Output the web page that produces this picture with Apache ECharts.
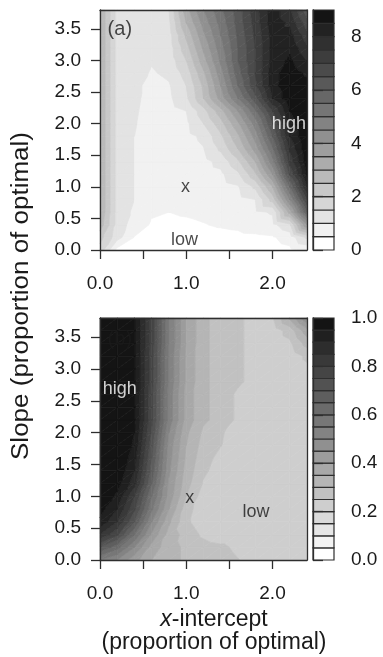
<!DOCTYPE html>
<html>
<head>
<meta charset="utf-8">
<script src="https://cdn.jsdelivr.net/npm/echarts@6/dist/echarts.min.js"></script>
<style>
html, body { margin: 0; padding: 0; background: #fff; }
#chart { width: 383px; height: 657px; }
</style>
</head>
<body>
<div id="chart"></div>
<script>
// grid nodes (x-intercept and slope, proportion of optimal)
var xNodes = [0, 0.2, 0.4, 0.6, 0.8, 1.0, 1.2, 1.4, 1.6, 1.8, 2.0, 2.2, 2.4];
var yNodes = [0, 0.2, 0.4, 0.6, 0.8, 1.0, 1.2, 1.4, 1.6, 1.8, 2.0, 2.2, 2.4, 2.6, 2.8, 3.0, 3.2, 3.4, 3.6, 3.8];

// panel (a), one row per slope value, bottom row first
var gridA = [
    [1.8, 0.35, 0.3, 0.25, 0.2, 0.2, 0.2, 0.2, 0.2, 0.25, 0.3, 0.4, 0.6],
    [2.2, 1.2, 0.48, 0.35, 0.3, 0.3, 0.32, 0.35, 0.38, 0.4, 0.45, 0.7, 1.6],
    [2.8, 1.3, 0.75, 0.45, 0.4, 0.42, 0.48, 0.55, 0.6, 0.75, 0.85, 1.4, 4.0],
    [3.0, 1.3, 0.9, 0.55, 0.5, 0.55, 0.6, 0.65, 0.72, 0.9, 1.05, 3.2, 6.0],
    [3.0, 1.3, 1.0, 0.7, 0.65, 0.65, 0.7, 0.75, 0.85, 1.0, 2.2, 4.5, 7.0],
    [3.0, 1.3, 1.0, 0.7, 0.7, 0.7, 0.75, 0.8, 0.95, 1.6, 3.0, 5.5, 8.0],
    [3.0, 1.3, 1.0, 0.7, 0.7, 0.7, 0.8, 0.9, 1.4, 2.4, 4.0, 6.6, 8.6],
    [3.0, 1.3, 1.0, 0.7, 0.7, 0.75, 0.85, 1.15, 1.9, 3.0, 4.8, 7.2, 8.8],
    [3.0, 1.3, 1.0, 0.7, 0.7, 0.8, 0.98, 1.6, 2.5, 3.7, 5.4, 7.6, 8.9],
    [3.0, 1.3, 1.0, 0.7, 0.7, 0.85, 1.1, 1.9, 2.9, 4.2, 6.0, 8.0, 9.0],
    [3.0, 1.3, 1.05, 0.7, 0.75, 0.9, 1.5, 2.3, 3.4, 4.7, 6.5, 8.3, 9.0],
    [3.0, 1.3, 1.1, 0.7, 0.8, 1.0, 1.8, 2.8, 4.0, 5.4, 7.0, 8.5, 9.0],
    [3.0, 1.3, 1.15, 0.75, 0.9, 1.4, 2.5, 3.7, 5.0, 6.3, 8.0, 8.9, 8.9],
    [3.0, 1.3, 1.15, 0.8, 0.95, 1.5, 2.6, 4.0, 5.5, 6.9, 8.3, 8.9, 8.7],
    [3.0, 1.3, 1.2, 0.95, 1.1, 1.7, 2.9, 4.3, 5.8, 7.0, 8.3, 8.8, 8.4],
    [3.0, 1.3, 1.15, 1.05, 1.2, 2.0, 3.3, 4.6, 6.0, 7.0, 8.2, 8.6, 8.0],
    [3.0, 1.3, 1.2, 1.05, 1.25, 2.3, 3.6, 4.8, 6.0, 7.0, 8.2, 8.4, 7.6],
    [3.0, 1.3, 1.2, 1.1, 1.3, 2.6, 3.9, 5.0, 6.1, 7.1, 8.2, 8.2, 7.2],
    [3.0, 1.3, 1.2, 1.1, 1.4, 3.0, 4.2, 5.2, 6.2, 7.2, 8.3, 7.9, 6.7],
    [3.0, 1.3, 1.2, 1.1, 1.5, 3.3, 4.5, 5.4, 6.25, 7.3, 8.3, 7.6, 6.2]
];

// panel (b)
var gridB = [
    [0.55, 0.5, 0.42, 0.35, 0.32, 0.29, 0.28, 0.27, 0.252, 0.23, 0.22, 0.22, 0.22],
    [0.7, 0.62, 0.5, 0.38, 0.32, 0.29, 0.27, 0.26, 0.24, 0.22, 0.22, 0.22, 0.22],
    [0.85, 0.76, 0.6, 0.44, 0.33, 0.28, 0.24, 0.22, 0.22, 0.22, 0.22, 0.22, 0.22],
    [0.94, 0.85, 0.7, 0.5, 0.36, 0.26, 0.22, 0.22, 0.22, 0.22, 0.22, 0.22, 0.22],
    [0.97, 0.9, 0.76, 0.56, 0.4, 0.27, 0.22, 0.22, 0.22, 0.22, 0.22, 0.22, 0.22],
    [0.99, 0.94, 0.8, 0.6, 0.43, 0.3, 0.225, 0.22, 0.22, 0.22, 0.22, 0.22, 0.22],
    [1.0, 0.97, 0.87, 0.65, 0.44, 0.32, 0.245, 0.22, 0.22, 0.22, 0.22, 0.22, 0.22],
    [1.0, 0.99, 0.9, 0.68, 0.46, 0.33, 0.26, 0.225, 0.22, 0.22, 0.22, 0.22, 0.22],
    [1.0, 1.0, 0.92, 0.7, 0.47, 0.34, 0.27, 0.235, 0.22, 0.22, 0.22, 0.22, 0.22],
    [1.0, 1.0, 0.94, 0.72, 0.48, 0.35, 0.28, 0.252, 0.22, 0.22, 0.22, 0.22, 0.22],
    [1.0, 1.0, 0.95, 0.74, 0.5, 0.36, 0.29, 0.255, 0.23, 0.22, 0.22, 0.22, 0.22],
    [1.0, 1.0, 0.96, 0.76, 0.53, 0.38, 0.31, 0.28, 0.24, 0.22, 0.22, 0.22, 0.22],
    [1.0, 1.0, 0.96, 0.76, 0.53, 0.38, 0.31, 0.28, 0.24, 0.22, 0.22, 0.22, 0.22],
    [1.0, 1.0, 0.96, 0.76, 0.53, 0.38, 0.31, 0.28, 0.24, 0.22, 0.22, 0.22, 0.22],
    [1.0, 1.0, 0.96, 0.77, 0.54, 0.39, 0.31, 0.28, 0.26, 0.23, 0.22, 0.22, 0.23],
    [1.0, 1.0, 0.96, 0.77, 0.54, 0.39, 0.31, 0.28, 0.26, 0.23, 0.22, 0.22, 0.24],
    [1.0, 1.0, 0.96, 0.77, 0.54, 0.39, 0.31, 0.28, 0.26, 0.23, 0.22, 0.22, 0.26],
    [1.0, 1.0, 0.96, 0.78, 0.55, 0.40, 0.31, 0.28, 0.26, 0.23, 0.22, 0.24, 0.32],
    [1.0, 1.0, 0.96, 0.78, 0.55, 0.40, 0.31, 0.28, 0.26, 0.23, 0.22, 0.27, 0.38],
    [1.0, 1.0, 0.96, 0.78, 0.55, 0.40, 0.31, 0.28, 0.26, 0.23, 0.245, 0.36, 0.5]
];

var levelsA = [0, 0.5, 1, 1.5, 2, 2.5, 3, 3.5, 4, 4.5, 5, 5.5, 6, 6.5, 7, 7.5, 8, 8.5, 9];
var levelsB = [0, 0.05, 0.1, 0.15, 0.2, 0.25, 0.3, 0.35, 0.4, 0.45, 0.5, 0.55, 0.6, 0.65, 0.7, 0.75, 0.8, 0.85, 0.9, 0.95, 1.0];

var xTicks = [0, 0.5, 1, 1.5, 2];
var xLabels = [0, 1, 2];
var yTicks = [0, 0.5, 1, 1.5, 2, 2.5, 3, 3.5];
var keyTicksA = [0, 2, 4, 6, 8];
var keyTicksB = [0, 0.2, 0.4, 0.6, 0.8, 1.0];

// text marks: x, y, text
var notesA = [[0.23, 3.49, '(a)'], [0.99, 1.0, 'x'], [0.98, 0.15, 'low'], [2.19, 2.0, 'high']];
var notesB = [[0.23, 3.46, '(b)'], [1.04, 0.97, 'x'], [1.81, 0.76, 'low'], [0.23, 2.68, 'high']];

var FONT = '"Liberation Sans", Arial, sans-serif';
var INK = '#1a1a1a';
var LINE = '#2e2e2e';

function grayFor(i, n) {
    var g = Math.round(255 - 235 * i / (n - 1));
    return 'rgb(' + g + ',' + g + ',' + g + ')';
}

// clip a polygon of [x, y, v] points against v >= lev (or v <= lev)
function clip(poly, lev, above) {
    var out = [];
    for (var k = 0; k < poly.length; k++) {
        var a = poly[k], b = poly[(k + 1) % poly.length];
        var ina = above ? a[2] >= lev : a[2] <= lev;
        var inb = above ? b[2] >= lev : b[2] <= lev;
        if (ina) out.push(a);
        if (ina !== inb) {
            var t = (lev - a[2]) / (b[2] - a[2]);
            out.push([a[0] + t * (b[0] - a[0]), a[1] + t * (b[1] - a[1]), lev]);
        }
    }
    return out;
}

function contourSeries(grid, levels, xi, yi) {
    var cells = [];
    for (var j = 0; j < yNodes.length - 1; j++) {
        for (var i = 0; i < xNodes.length - 1; i++) {
            cells.push([xNodes[i], yNodes[j], i, j]);
        }
    }
    var n = levels.length - 1;
    return {
        type: 'custom',
        xAxisIndex: xi,
        yAxisIndex: yi,
        silent: true,
        data: cells,
        encode: { x: 0, y: 1 },
        renderItem: function (params, api) {
            var i = api.value(2), j = api.value(3);
            var p00 = [xNodes[i], yNodes[j], grid[j][i]];
            var p10 = [xNodes[i + 1], yNodes[j], grid[j][i + 1]];
            var p11 = [xNodes[i + 1], yNodes[j + 1], grid[j + 1][i + 1]];
            var p01 = [xNodes[i], yNodes[j + 1], grid[j + 1][i]];
            var children = [];
            [[p00, p10, p11], [p00, p11, p01]].forEach(function (tri) {
                var vmin = Math.min(tri[0][2], tri[1][2], tri[2][2]);
                var vmax = Math.max(tri[0][2], tri[1][2], tri[2][2]);
                for (var b = 0; b < n; b++) {
                    if (levels[b + 1] < vmin || levels[b] >= vmax && !(vmin === vmax && levels[b + 1] === vmax)) continue;
                    var poly = clip(clip(tri, levels[b], true), levels[b + 1], false);
                    if (poly.length < 3) continue;
                    var pts = poly.map(function (p) { return api.coord([p[0], p[1]]); });
                    var area = 0;
                    for (var k = 0; k < pts.length; k++) {
                        var q = pts[(k + 1) % pts.length];
                        area += pts[k][0] * q[1] - q[0] * pts[k][1];
                    }
                    if (Math.abs(area) < 0.01) continue;
                    var c = grayFor(b, n);
                    children.push({
                        type: 'polygon',
                        shape: { points: pts },
                        style: { fill: c, stroke: c, lineWidth: 0.7 }
                    });
                }
            });
            return { type: 'group', children: children };
        }
    };
}

function keySeries(levels, xi, yi) {
    var n = levels.length - 1;
    var items = [];
    for (var b = 0; b < n; b++) items.push([0, levels[b], levels[b + 1], b]);
    return {
        type: 'custom',
        xAxisIndex: xi,
        yAxisIndex: yi,
        silent: true,
        data: items,
        encode: { x: 0, y: [1, 2] },
        renderItem: function (params, api) {
            var a = api.coord([0, api.value(1)]);
            var c = api.coord([1, api.value(2)]);
            return {
                type: 'rect',
                shape: { x: a[0], y: c[1], width: c[0] - a[0], height: a[1] - c[1] },
                style: { fill: grayFor(api.value(3), n), stroke: LINE, lineWidth: 1.2 }
            };
        }
    };
}

function noteSeries(notes, xi, yi) {
    return {
        type: 'scatter',
        xAxisIndex: xi,
        yAxisIndex: yi,
        silent: true,
        symbolSize: 0,
        z: 6,
        data: notes.map(function (d) {
            return {
                value: [d[0], d[1]],
                name: d[2],
                label: {
                    color: d[2] === 'high' ? '#ffffff' : INK,
                    fontSize: d[2].charAt(0) === '(' ? 20 : 18
                }
            };
        }),
        label: {
            show: true,
            position: 'inside',
            fontSize: 18,
            fontFamily: FONT,
            formatter: function (p) { return p.name; }
        }
    };
}

function fmt1(v) { return v.toFixed(1); }

function plotX(gridIndex, top) {
    var base = {
        gridIndex: gridIndex, type: 'value', min: 0, max: 2.4, z: 5,
        splitLine: { show: false },
        axisLine: { show: true, onZero: false, lineStyle: { color: LINE, width: 1.3 } }
    };
    if (top) {
        return Object.assign(base, { position: 'top', axisTick: { show: false }, axisLabel: { show: false } });
    }
    return Object.assign(base, {
        position: 'bottom',
        axisTick: { show: true, length: 9, customValues: xTicks, lineStyle: { color: LINE, width: 1.3 } },
        axisLabel: { customValues: xLabels, formatter: fmt1, fontSize: 19, color: INK, fontFamily: FONT, margin: 24 }
    });
}

function plotY(gridIndex, right) {
    var base = {
        gridIndex: gridIndex, type: 'value', min: 0, max: 3.8, z: 5,
        splitLine: { show: false },
        axisLine: { show: true, onZero: false, lineStyle: { color: LINE, width: 1.3 } }
    };
    if (right) {
        return Object.assign(base, { position: 'right', axisTick: { show: false }, axisLabel: { show: false } });
    }
    return Object.assign(base, {
        position: 'left',
        axisTick: { show: true, length: 9, customValues: yTicks, lineStyle: { color: LINE, width: 1.3 } },
        axisLabel: { customValues: yTicks, formatter: fmt1, fontSize: 19, color: INK, fontFamily: FONT, margin: 19 }
    });
}

function keyX(gridIndex) {
    return { gridIndex: gridIndex, type: 'value', min: 0, max: 1, show: false };
}

function keyY(gridIndex, max, ticks, f) {
    return {
        gridIndex: gridIndex, type: 'value', min: 0, max: max, position: 'right', z: 5,
        splitLine: { show: false },
        axisLine: { show: true, lineStyle: { color: LINE, width: 1.3 } },
        axisTick: { show: true, length: 10, customValues: ticks, lineStyle: { color: LINE, width: 1.3 } },
        axisLabel: { customValues: ticks, formatter: f, fontSize: 19, color: INK, fontFamily: FONT, margin: 17 }
    };
}

var chart = echarts.init(document.getElementById('chart'), null, { renderer: 'canvas' });

var option = {
    animation: false,
    backgroundColor: '#ffffff',
    textStyle: { fontFamily: FONT },
    grid: [
        { left: 100, top: 10, width: 207, height: 240 },
        { left: 313, top: 10, width: 21, height: 240 },
        { left: 100, top: 318, width: 207, height: 242 },
        { left: 313, top: 318, width: 21, height: 242 }
    ],
    xAxis: [plotX(0, false), plotX(0, true), keyX(1), plotX(2, false), plotX(2, true), keyX(3)],
    yAxis: [
        plotY(0, false), plotY(0, true),
        keyY(1, 9, keyTicksA, function (v) { return String(v); }),
        plotY(2, false), plotY(2, true),
        keyY(3, 1, keyTicksB, fmt1)
    ],
    series: [
        contourSeries(gridA, levelsA, 0, 0),
        keySeries(levelsA, 2, 2),
        contourSeries(gridB, levelsB, 3, 3),
        keySeries(levelsB, 5, 5),
        noteSeries(notesA, 0, 0),
        noteSeries(notesB, 3, 3)
    ],
    graphic: [
        {
            type: 'text', x: 22, y: 296, rotation: Math.PI / 2, scaleX: 1.13,
            style: {
                text: 'Slope (proportion of optimal)', fill: INK,
                font: '23px ' + FONT, textAlign: 'center', textVerticalAlign: 'middle'
            }
        },
        {
            type: 'text', x: 214, y: 620,
            style: {
                text: '{i|x}-intercept', fill: INK, fontSize: 23, fontFamily: FONT,
                textAlign: 'center', textVerticalAlign: 'middle',
                rich: { i: { fontStyle: 'italic', fontSize: 23, fontFamily: FONT, fill: INK } }
            }
        },
        {
            type: 'text', x: 214, y: 643,
            style: {
                text: '(proportion of optimal)', fill: INK,
                font: '23px ' + FONT, textAlign: 'center', textVerticalAlign: 'middle'
            }
        }
    ]
};

chart.setOption(option);
</script>
</body>
</html>
